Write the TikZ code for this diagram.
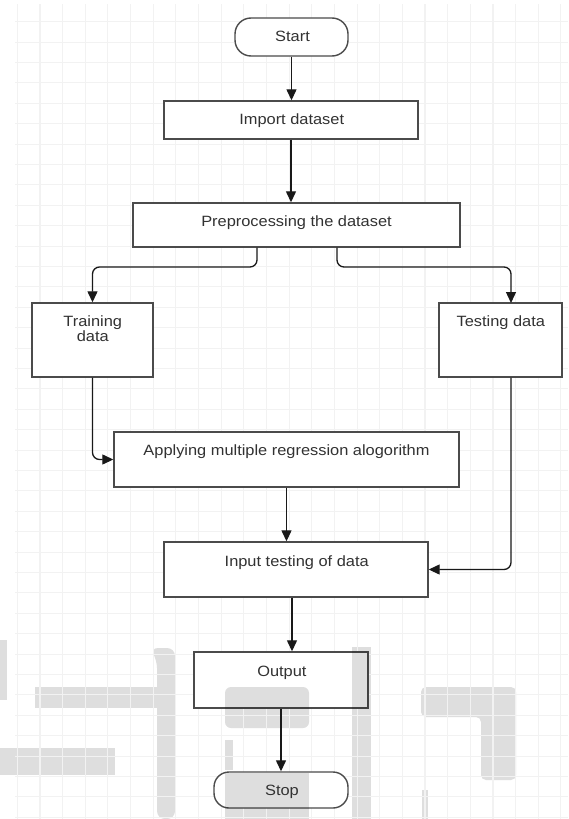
\documentclass[tikz,border=0pt]{standalone}
\usepackage{fontspec}
\setmainfont{Liberation Sans}[FakeStretch=1.1]
\usetikzlibrary{arrows.meta}
\definecolor{gridc}{RGB}{242,242,242}
\definecolor{wmc}{RGB}{222,222,222}
\definecolor{boxc}{RGB}{75,75,75}
\definecolor{txtc}{RGB}{50,50,50}
\definecolor{arrc}{RGB}{25,25,25}
\newcommand\wmfill[1]{%
  \fill[#1] (0,640) rectangle (7,700);
  \fill[#1] (35,687) rectangle (167,708);
  \fill[#1,rounded corners=8] (150,648) -- (175,648) -- (175,819) -- (157,819) -- (157,660) -- cycle;
  \fill[#1] (0,748) rectangle (115,775);
  \fill[#1,rounded corners=6] (225,687) -- (309,687) -- (309,728) -- (225,728) -- cycle;
  \fill[#1] (225,740) rectangle (233,770);
  \fill[#1] (225,773) rectangle (309,819);
  \fill[#1] (352,647) rectangle (371,819);
  \fill[#1,rounded corners=5] (421,687) -- (516,687) -- (516,780) -- (481,780) -- (481,717) -- (421,717) -- cycle;
  \fill[#1] (422,790) rectangle (428,819);
}
\tikzset{
  box/.style={draw=boxc, line width=1.4pt, fill=white, rectangle, inner sep=0pt},
  term/.style={box, rounded corners=16pt},
  lbl/.style={text=txtc, font=\fontsize{14.9}{15.2}\selectfont, inner sep=0pt, anchor=base, align=center},
  arr/.style={draw=arrc, line width=1.3pt, -{Triangle[width=10pt,length=11pt]}},
}
\begin{document}
\begin{tikzpicture}[x=1pt,y=-1pt]
\useasboundingbox (0,0) rectangle (568,819);
\fill[white] (0,0) rectangle (568,819);
% watermark
\wmfill{wmc}
% grid
\foreach \i in {0,...,24} \draw[gridc, line width=1.1pt] ({17.3+22.65*\i},4) -- ({17.3+22.65*\i},819);
\foreach \j in {0,...,39} \draw[gridc, line width=1.1pt] (15,{21.7+20.4*\j}) -- (568,{21.7+20.4*\j});
% boxes
\node[term, minimum width=113pt, minimum height=38pt] (start) at (291.5,37) {};
\node[box, minimum width=254pt, minimum height=38pt] (import) at (291,120) {};
\node[box, minimum width=327pt, minimum height=44pt] (pre) at (296.5,225) {};
\node[box, minimum width=121pt, minimum height=74pt] (train) at (92.5,340) {};
\node[box, minimum width=123pt, minimum height=74pt] (test) at (500.5,340) {};
\node[box, minimum width=345pt, minimum height=55pt] (apply) at (286.5,459.5) {};
\node[box, minimum width=264pt, minimum height=55pt] (input) at (296,569.5) {};
\node[box, minimum width=174pt, minimum height=56pt] (output) at (281,680) {};
\node[term, minimum width=134pt, minimum height=36pt, rounded corners=15pt] (stop) at (281,790) {};
% watermark over boxes
\begin{scope}
  \clip (output.south west) rectangle (output.north east);
  \wmfill{black,fill opacity=0.13}
\end{scope}
\begin{scope}
  \clip[rounded corners=15pt] (stop.south west) rectangle (stop.north east);
  \wmfill{black,fill opacity=0.13}
\end{scope}
% labels
\node[lbl] (tstart) at (292.5,41.6) {Start};
\node[lbl] (timport) at (291.7,124.3) {Import dataset};
\node[lbl] (tpre) at (296.5,226) {Preprocessing the dataset};
\node[lbl] (ttrain) at (92.8,341.7) {Training\\data};
\node[lbl] (ttest) at (500.8,326.7) {Testing data};
\node[lbl] (tapply) at (286.5,455) {Applying multiple regression alogorithm};
\node[lbl] (tinput) at (296.7,566) {Input testing of data};
\node[lbl] (toutput) at (281.9,676) {Output};
\node[lbl] (tstop) at (282,795) {Stop};
% connector helpers
\coordinate (bl) at (257,267);
\coordinate (br) at (337,267);
\coordinate (tx) at (511,303);
\coordinate (ix) at (292,0);
% connectors
\draw[arr] (start.south) -- (start.south |- import.north);
\draw[arr] (import.south) -- (import.south |- pre.north);
\draw[arr, rounded corners=7pt] (bl |- pre.south) -- (bl) -| (train.north);
\draw[arr, rounded corners=7pt] (br |- pre.south) -- (br) -| (tx);
\draw[arr, rounded corners=7pt] (train.south) |- (apply.west);
\draw[arr] (apply.south) -- (apply.south |- input.north);
\draw[arr, rounded corners=7pt] (tx |- test.south) |- (input.east);
\draw[arr] (ix |- input.south) -- (ix |- output.north);
\draw[arr] (output.south) -- (stop.north);
\end{tikzpicture}
\end{document}
